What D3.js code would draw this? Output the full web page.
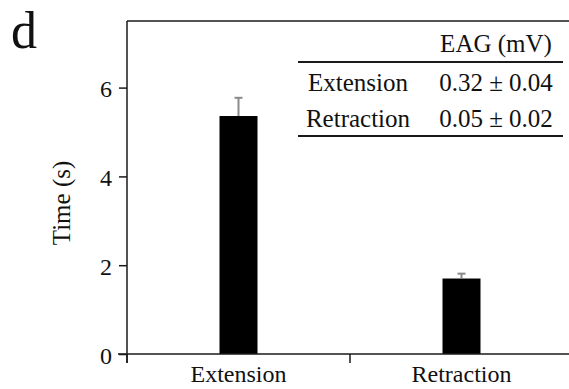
<!DOCTYPE html>
<html><head><meta charset="utf-8">
<script src="https://cdn.jsdelivr.net/npm/d3@7"></script>
<style>
html,body{margin:0;padding:0;background:#fff;}
svg{display:block;}
svg text{font-family:"Liberation Serif","Times New Roman",serif !important;}
</style></head>
<body>
<script>
const categories = ["Extension", "Retraction"];
const timeValues = [5.36, 1.70];
const timeErrors = [0.41, 0.11];
const yTicks = [0, 2, 4, 6];
const tableHeader = "EAG (mV)";
const tableRows = ["Extension", "Retraction"];
const tableValues = ["0.32 ± 0.04", "0.05 ± 0.02"];

(function () {
const W = 569, H = 389;
const svg = d3.select("body").append("svg").attr("width", W).attr("height", H);

const pLeft = 127, pRight = 573, pTop = 21, pBottom = 354;
const y = d3.scaleLinear().domain([0, 7.5]).range([pBottom, pTop]);
const x = d3.scaleBand().domain(categories).range([pLeft, pRight]).padding(0);
const barW = 38;
const ink = "#1a1a1a";

// top border
svg.append("line").attr("x1", pLeft).attr("x2", W).attr("y1", y(7.5)).attr("y2", y(7.5))
  .attr("stroke", ink).attr("stroke-width", 1.5);

// y axis
const yAxis = svg.append("g").attr("transform", `translate(${pLeft},0)`)
  .call(d3.axisLeft(y).tickValues(yTicks).tickSize(8).tickPadding(7).tickFormat(d3.format("d")));
yAxis.attr("font-family", null);
yAxis.select(".domain").attr("stroke", ink).attr("stroke-width", 1.5)
  .attr("d", `M0,${y(7.5)}V${y(0) + 9}`);
yAxis.selectAll(".tick line").attr("stroke", ink).attr("stroke-width", 1.5);
yAxis.selectAll(".tick text").attr("font-size", 24).attr("fill", "#111").attr("dy", "0.38em");

// bars
svg.selectAll("rect.bar").data(categories).enter().append("rect")
  .attr("x", d => x(d) + x.bandwidth() / 2 - barW / 2)
  .attr("y", (d, i) => y(timeValues[i]))
  .attr("width", barW)
  .attr("height", (d, i) => y(0) - y(timeValues[i]))
  .attr("fill", "#000");

// error bars
categories.forEach((c, i) => {
  const cx = x(c) + x.bandwidth() / 2;
  svg.append("line").attr("x1", cx).attr("x2", cx)
    .attr("y1", y(timeValues[i])).attr("y2", y(timeValues[i] + timeErrors[i]))
    .attr("stroke", "#8a8a8a").attr("stroke-width", 2);
  svg.append("line").attr("x1", cx - 4).attr("x2", cx + 4)
    .attr("y1", y(timeValues[i] + timeErrors[i])).attr("y2", y(timeValues[i] + timeErrors[i]))
    .attr("stroke", "#8a8a8a").attr("stroke-width", 2);
});

// x axis baseline
svg.append("line").attr("x1", pLeft - 9).attr("x2", W).attr("y1", y(0)).attr("y2", y(0))
  .attr("stroke", ink).attr("stroke-width", 1.5);
// x boundary ticks
const bounds = categories.map(c => x(c)).concat([pRight]);
svg.selectAll("line.xt").data(bounds).enter().append("line")
  .attr("x1", d => d).attr("x2", d => d).attr("y1", y(0)).attr("y2", y(0) + 9)
  .attr("stroke", ink).attr("stroke-width", 1.5);
// x labels
svg.selectAll("text.xl").data(categories).enter().append("text")
  .attr("x", d => x(d) + x.bandwidth() / 2).attr("y", 382)
  .attr("text-anchor", "middle").attr("font-size", 24).attr("fill", "#111").text(d => d);

// y title
svg.append("text").attr("transform", "translate(70,203) rotate(-90)")
  .attr("text-anchor", "middle").attr("font-size", 25).attr("fill", "#111").text("Time (s)");

// panel letter
svg.append("text").attr("x", 11).attr("y", 48).attr("font-size", 52).attr("fill", "#111").text("d");

// table
const tx1 = 298, tx2 = 563, colL = 358, colR = 496;
svg.append("text").attr("x", colR).attr("y", 52).attr("text-anchor", "middle")
  .attr("font-size", 25).attr("fill", "#111").text(tableHeader);
svg.append("line").attr("x1", tx1).attr("x2", tx2).attr("y1", 62).attr("y2", 62)
  .attr("stroke", ink).attr("stroke-width", 2);
const rowY = [91, 127];
tableRows.forEach((r, i) => {
  svg.append("text").attr("x", colL).attr("y", rowY[i]).attr("text-anchor", "middle")
    .attr("font-size", 25).attr("fill", "#111").text(r);
  svg.append("text").attr("x", colR).attr("y", rowY[i]).attr("text-anchor", "middle")
    .attr("font-size", 25).attr("fill", "#111").text(tableValues[i]);
});
svg.append("line").attr("x1", tx1).attr("x2", tx2).attr("y1", 136).attr("y2", 136)
  .attr("stroke", ink).attr("stroke-width", 2);
})();
</script>
</body></html>
